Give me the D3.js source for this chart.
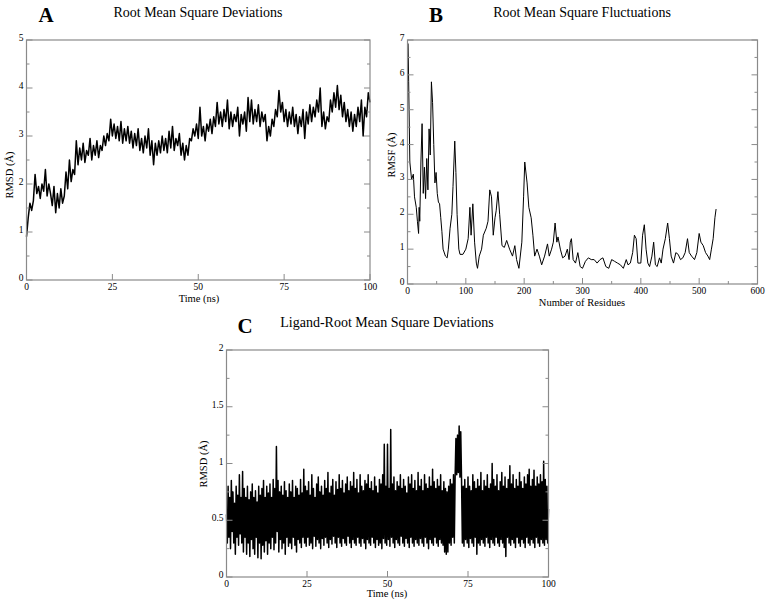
<!DOCTYPE html>
<html>
<head>
<meta charset="utf-8">
<script src="https://cdn.jsdelivr.net/npm/d3@7"></script>
<style>
  body { margin: 0; background: #fff; }
  text { font-family: "Liberation Serif", "Times New Roman", serif; fill: #000; }
</style>
</head>
<body>
<script>
// A: protein RMSD, one value every 0.5 ns (0 .. 100 ns)
var rmsdStep = 0.5;
var rmsdValues = [
  0.9, 1.3, 1.6, 1.45, 1.65, 2.2, 1.8, 1.95, 1.7, 2.0,
  1.85, 2.3, 1.75, 2.0, 1.8, 1.55, 1.95, 1.4, 1.8, 1.5,
  1.9, 1.6, 1.75, 2.25, 1.9, 2.5, 2.05, 2.3, 2.2, 2.9,
  2.4, 2.75, 2.5, 2.85, 2.45, 2.7, 2.6, 2.95, 2.5, 2.8,
  2.6, 2.9, 2.55, 2.8, 2.7, 3.0, 2.8, 3.05, 2.9, 3.35,
  3.0, 3.25, 2.95, 3.2, 2.9, 3.3, 2.85, 3.15, 2.9, 3.2,
  2.85, 3.1, 2.75, 3.05, 2.8, 3.15, 2.7, 2.95, 2.65, 3.0,
  2.75, 3.15, 2.6, 2.9, 2.4, 2.85, 2.6, 2.9, 2.65, 3.0,
  2.7, 2.95, 2.65, 3.1, 2.75, 3.2, 2.7, 2.95, 2.8, 3.05,
  2.6, 2.85, 2.5, 2.8, 2.6, 2.95, 2.9, 3.15, 3.0, 3.25,
  2.95, 3.6, 3.0, 3.2, 2.9, 3.25, 3.1, 3.35, 3.05, 3.4,
  3.2, 3.7, 3.25, 3.5, 3.2, 3.55, 3.3, 3.75, 3.15, 3.5,
  3.2, 3.45, 3.3, 3.6, 3.0, 3.45, 3.25, 3.5, 3.1, 3.8,
  3.3, 3.75, 3.25, 3.55, 3.3, 3.65, 3.2, 3.5, 3.3, 3.45,
  2.9, 3.2, 3.0, 3.35, 3.2, 3.55, 3.4, 3.95, 3.5, 3.7,
  3.3, 3.55, 3.2, 3.5, 3.25, 3.6, 3.2, 3.45, 3.05, 3.4,
  3.2, 3.55, 2.95, 3.5, 3.25, 3.65, 3.3, 3.6, 3.4, 3.75,
  3.5, 4.0, 3.2, 3.5, 3.15, 3.4, 3.3, 3.75, 3.5, 3.9,
  3.6, 4.05, 3.55, 3.85, 3.4, 3.7, 3.3, 3.55, 3.2, 3.5,
  3.1, 3.45, 3.2, 3.6, 3.3, 3.75, 3.0, 3.6, 3.4, 3.9,
  3.7
];

// B: RMSF per residue
var rmsfResidues = [
  1, 2, 4, 7, 10, 12, 15, 17, 19, 20, 21, 23, 25, 27, 29, 31, 33, 35, 37, 39,
  41, 43, 45, 47, 49, 51, 53, 55, 57, 59, 61, 65, 68, 70, 73, 76, 78, 81, 83, 85,
  88, 90, 95, 100, 104, 107, 109, 112, 115, 118, 120, 123, 127, 130, 135, 138, 141, 144, 147, 150,
  152, 155, 158, 162, 166, 170, 175, 180, 184, 187, 191, 196, 199, 201, 205, 208, 212, 215, 218, 222,
  226, 230, 235, 240, 243, 247, 250, 253, 256, 258, 262, 266, 270, 274, 277, 279, 281, 284, 288, 292,
  296, 300, 305, 310, 315, 320, 325, 330, 335, 340, 345, 350, 355, 360, 365, 370, 375, 378, 382, 386,
  389, 392, 395, 400, 403, 406, 409, 412, 415, 419, 422, 425, 428, 432, 435, 438, 442, 446, 449, 452,
  456, 460, 464, 468, 472, 476, 480, 483, 487, 492, 496, 500, 503, 507, 511, 515, 518, 521, 524, 527,
  529
];
var rmsfValues = [
  6.9, 5.8, 3.5, 3.0, 3.15, 2.5, 2.2, 1.8, 1.45, 2.2, 1.8, 3.5, 4.6, 2.6, 3.35, 2.45, 3.6, 2.7, 4.45, 3.7,
  5.8, 5.2, 4.0, 2.9, 3.2, 2.6, 2.35, 2.3, 1.9, 1.5, 1.0, 0.8, 0.75, 1.0, 1.6, 2.0, 2.8, 4.1, 3.2, 2.0,
  1.0, 0.85, 0.85, 1.0, 1.3, 2.2, 1.4, 2.3, 1.2, 0.6, 0.45, 0.8, 1.0, 1.4, 1.6, 1.8, 2.7, 2.5, 1.4, 1.9,
  2.1, 2.65, 2.0, 1.1, 1.05, 1.25, 1.0, 0.8, 1.1, 0.7, 0.45, 1.2, 2.5, 3.5, 2.9, 2.2, 1.9, 1.4, 0.8, 1.0,
  0.8, 0.55, 0.8, 1.15, 0.8, 1.0, 1.2, 1.75, 1.2, 1.35, 1.0, 0.75, 0.8, 1.0, 0.7, 1.2, 1.3, 0.7, 0.6, 0.9,
  0.5, 0.45, 0.65, 0.75, 0.7, 0.7, 0.6, 0.7, 0.75, 0.5, 0.45, 0.7, 0.65, 0.6, 0.55, 0.45, 0.7, 0.55, 0.6, 0.9,
  1.4, 1.3, 0.6, 0.6, 1.4, 1.7, 1.0, 0.6, 0.5, 0.8, 1.2, 0.55, 0.5, 0.75, 0.6, 1.0, 1.3, 1.75, 1.3, 0.8,
  0.6, 0.9, 0.85, 0.7, 0.75, 0.9, 1.3, 0.9, 0.8, 0.7, 0.9, 1.45, 1.2, 1.1, 0.9, 0.8, 0.7, 1.0, 1.3, 1.9,
  2.15
];

// C: ligand RMSD, one value every 0.25 ns (0 .. 100 ns)
var ligStep = 0.25;
var ligValues = [
  0.55, 0.3, 0.8, 0.35, 0.7, 0.25, 0.85, 0.4, 0.75, 0.3, 0.65, 0.2, 0.8, 0.35, 0.72, 0.28, 0.9, 0.38, 0.7, 0.3,
  0.93, 0.22, 0.78, 0.35, 0.7, 0.2, 0.8, 0.3, 0.68, 0.18, 0.75, 0.33, 0.82, 0.25, 0.7, 0.2, 0.76, 0.35, 0.66, 0.17,
  0.8, 0.3, 0.72, 0.16, 0.78, 0.28, 0.85, 0.22, 0.7, 0.32, 0.8, 0.2, 0.74, 0.3, 0.82, 0.25, 0.7, 0.35, 0.86, 0.24,
  0.78, 0.3, 1.15, 0.4, 0.85, 0.22, 0.75, 0.33, 0.8, 0.25, 0.72, 0.3, 0.84, 0.2, 0.76, 0.35, 0.7, 0.27, 0.82, 0.3,
  0.75, 0.25, 0.85, 0.35, 0.7, 0.28, 0.8, 0.22, 0.78, 0.33, 0.72, 0.3, 0.86, 0.26, 0.74, 0.35, 0.95, 0.3, 0.8, 0.27,
  0.76, 0.35, 0.84, 0.28, 0.72, 0.3, 0.9, 0.25, 0.78, 0.36, 0.7, 0.27, 0.82, 0.33, 0.88, 0.3, 0.75, 0.25, 0.8, 0.34,
  0.72, 0.28, 0.85, 0.35, 0.78, 0.3, 0.92, 0.26, 0.74, 0.33, 0.8, 0.29, 0.86, 0.36, 0.72, 0.3, 0.84, 0.26, 0.77, 0.35,
  0.9, 0.3, 0.78, 0.27, 0.85, 0.34, 0.74, 0.3, 0.82, 0.28, 0.88, 0.36, 0.76, 0.3, 0.84, 0.26, 0.8, 0.33, 0.92, 0.3,
  0.78, 0.28, 0.86, 0.35, 0.74, 0.3, 0.9, 0.27, 0.8, 0.34, 0.76, 0.3, 0.85, 0.25, 0.82, 0.33, 0.9, 0.3, 0.78, 0.28,
  0.84, 0.35, 0.76, 0.3, 0.88, 0.26, 0.8, 0.33, 0.74, 0.28, 0.86, 0.3, 0.82, 0.25, 0.9, 0.34, 1.17, 0.3, 0.8, 0.28,
  1.17, 0.33, 0.78, 0.27, 1.3, 0.35, 0.82, 0.3, 0.88, 0.26, 0.76, 0.33, 0.84, 0.3, 0.8, 0.28, 0.9, 0.36, 0.78, 0.3,
  0.86, 0.27, 0.8, 0.34, 0.74, 0.3, 0.88, 0.26, 0.82, 0.35, 0.9, 0.3, 0.78, 0.27, 0.85, 0.33, 0.76, 0.3, 0.92, 0.28,
  0.8, 0.34, 0.86, 0.3, 0.76, 0.27, 0.9, 0.35, 0.82, 0.3, 0.78, 0.25, 0.88, 0.33, 0.8, 0.3, 0.95, 0.28, 0.84, 0.35,
  0.78, 0.3, 0.86, 0.27, 0.8, 0.33, 0.9, 0.3, 0.76, 0.28, 0.84, 0.22, 0.78, 0.2, 0.75, 0.22, 0.8, 0.3, 0.86, 0.28,
  0.82, 0.35, 0.9, 0.3, 0.88, 1.22, 0.9, 1.25, 0.92, 1.33, 0.88, 1.28, 0.85, 0.3, 0.8, 0.27, 0.86, 0.33, 0.78, 0.3,
  0.88, 0.26, 0.8, 0.34, 0.76, 0.3, 0.9, 0.27, 0.84, 0.35, 0.78, 0.2, 0.86, 0.3, 0.8, 0.28, 0.92, 0.33, 0.76, 0.3,
  0.85, 0.27, 0.8, 0.35, 0.9, 0.3, 0.78, 0.26, 0.82, 0.33, 1.0, 0.3, 0.86, 0.28, 0.8, 0.35, 0.9, 0.3, 0.76, 0.27,
  0.84, 0.33, 0.92, 0.3, 0.8, 0.26, 0.88, 0.18, 0.78, 0.35, 0.86, 0.3, 0.98, 0.28, 0.82, 0.33, 0.9, 0.3, 0.78, 0.26,
  0.86, 0.35, 0.8, 0.3, 0.92, 0.27, 0.84, 0.33, 0.78, 0.3, 0.88, 0.26, 0.82, 0.35, 0.9, 0.3, 0.95, 0.28, 0.8, 0.33,
  0.86, 0.3, 0.94, 0.26, 0.8, 0.35, 0.88, 0.3, 0.82, 0.27, 0.9, 0.33, 0.84, 0.3, 1.02, 0.28, 0.86, 0.33, 0.8, 0.3,
  0.6
];

var timeTicks = [0, 25, 50, 75, 100];
var residueTicks = [0, 100, 200, 300, 400, 500, 600];
var residueMinor = [50, 150, 250, 350, 450, 550];

var width = 769, height = 602;
var frameColor = "#8a8a8a";

var svg = d3.select("body").append("svg")
    .attr("width", width)
    .attr("height", height);

function panel(o) {
  var x = d3.scaleLinear().domain(o.xDomain).range([o.left, o.right]);
  var y = d3.scaleLinear().domain(o.yDomain).range([o.bottom, o.top]);
  var g = svg.append("g");

  // data line
  var line = d3.line()
      .x(function(d) { return x(d[0]); })
      .y(function(d) { return y(d[1]); });
  g.append("path")
      .datum(o.points)
      .attr("fill", "none")
      .attr("stroke", "#000")
      .attr("stroke-width", o.lineWidth)
      .attr("stroke-linejoin", "round")
      .attr("d", line);

  // frame
  g.append("rect")
      .attr("x", o.left).attr("y", o.top)
      .attr("width", o.right - o.left).attr("height", o.bottom - o.top)
      .attr("fill", "none").attr("stroke", frameColor).attr("stroke-width", 1.2);

  // ticks pointing inward: bottom, left and right
  function tick(x1, y1, x2, y2) {
    g.append("line").attr("x1", x1).attr("y1", y1).attr("x2", x2).attr("y2", y2)
        .attr("stroke", frameColor).attr("stroke-width", 1);
  }
  o.xTicks.forEach(function(t) { tick(x(t), o.bottom, x(t), o.bottom - 6); });
  (o.xMinor || []).forEach(function(t) { tick(x(t), o.bottom, x(t), o.bottom - 3); });
  o.yTicks.forEach(function(t) {
    tick(o.left, y(t), o.left + 6, y(t));
    tick(o.right, y(t), o.right - 6, y(t));
  });
  o.yMinor.forEach(function(t) {
    tick(o.left, y(t), o.left + 3, y(t));
    tick(o.right, y(t), o.right - 3, y(t));
  });

  // tick labels
  g.selectAll(".xl").data(o.xTicks).enter().append("text")
      .attr("x", function(d) { return x(d); })
      .attr("y", o.bottom + 9.5)
      .attr("text-anchor", "middle")
      .style("font-size", "9.5px")
      .text(function(d) { return d; });
  g.selectAll(".yl").data(o.yTicks).enter().append("text")
      .attr("x", o.left - 3)
      .attr("y", function(d) { return y(d) + 1; })
      .attr("text-anchor", "end")
      .style("font-size", "9.5px")
      .text(function(d) { return d; });

  // axis titles
  g.append("text")
      .attr("x", o.xLabelX).attr("y", o.xLabelY)
      .attr("text-anchor", "middle")
      .style("font-size", "10.5px")
      .text(o.xLabel);
  g.append("text")
      .attr("transform", "translate(" + o.yLabelX + "," + o.yLabelY + ") rotate(-90)")
      .attr("text-anchor", "middle")
      .style("font-size", "10.5px")
      .text(o.yLabel);

  // panel letter and title
  g.append("text")
      .attr("x", o.letterX).attr("y", o.letterY)
      .attr("text-anchor", "middle")
      .style("font-size", "21px").style("font-weight", "bold")
      .text(o.letter);
  g.append("text")
      .attr("x", o.titleX).attr("y", o.titleY)
      .attr("text-anchor", "middle")
      .style("font-size", "14px")
      .text(o.title);
}

panel({
  left: 26.5, right: 370, top: 40, bottom: 280,
  xDomain: [0, 100], yDomain: [0, 5],
  xTicks: timeTicks,
  yTicks: [0, 1, 2, 3, 4, 5], yMinor: [0.5, 1.5, 2.5, 3.5, 4.5],
  points: rmsdValues.map(function(v, i) { return [i * rmsdStep, v]; }),
  lineWidth: 1.5,
  xLabel: "Time (ns)", xLabelX: 199, xLabelY: 302,
  yLabel: "RMSD (Å)", yLabelX: 13, yLabelY: 175,
  letter: "A", letterX: 46, letterY: 22,
  title: "Root Mean Square Deviations", titleX: 198, titleY: 17
});

panel({
  left: 407.5, right: 757.5, top: 40, bottom: 284,
  xDomain: [0, 600], yDomain: [0, 7],
  xTicks: residueTicks, xMinor: residueMinor,
  yTicks: [0, 1, 2, 3, 4, 5, 6, 7], yMinor: [0.5, 1.5, 2.5, 3.5, 4.5, 5.5, 6.5],
  points: rmsfResidues.map(function(r, i) { return [r, rmsfValues[i]]; }),
  lineWidth: 1,
  xLabel: "Number of Residues", xLabelX: 582, xLabelY: 306,
  yLabel: "RMSF (Å)", yLabelX: 395, yLabelY: 155,
  letter: "B", letterX: 436, letterY: 22,
  title: "Root Mean Square Fluctuations", titleX: 582, titleY: 17
});

panel({
  left: 226.5, right: 548.5, top: 350, bottom: 577,
  xDomain: [0, 100], yDomain: [0, 2],
  xTicks: timeTicks,
  yTicks: [0, 0.5, 1, 1.5, 2], yMinor: [0.25, 0.75, 1.25, 1.75],
  points: ligValues.map(function(v, i) { return [i * ligStep, v]; }),
  lineWidth: 1.5,
  xLabel: "Time (ns)", xLabelX: 387, xLabelY: 597,
  yLabel: "RMSD (Å)", yLabelX: 207, yLabelY: 464,
  letter: "C", letterX: 245, letterY: 333,
  title: "Ligand-Root Mean Square Deviations", titleX: 387, titleY: 327
});
</script>
</body>
</html>
